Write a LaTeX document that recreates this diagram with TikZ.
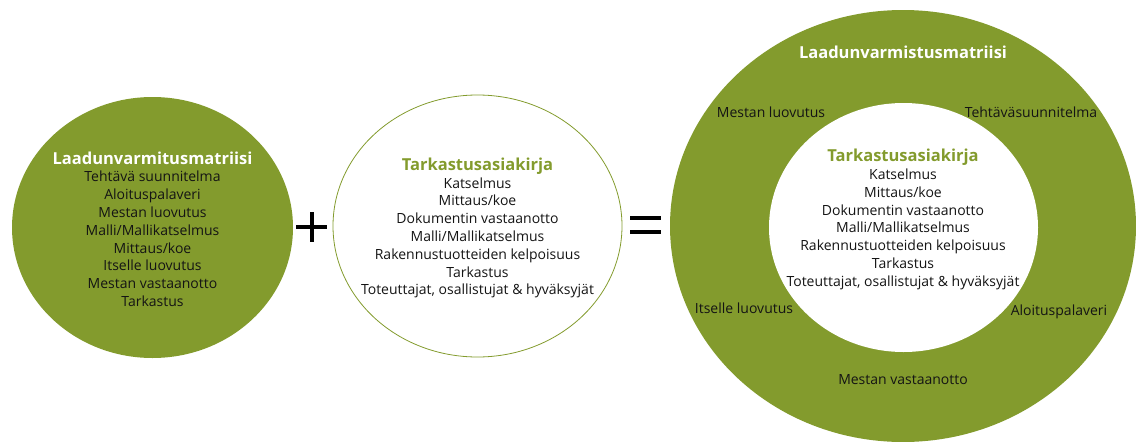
\documentclass[tikz,border=0pt]{standalone}
\usepackage{fontspec}
\setmainfont{Open Sans}
\usetikzlibrary{shapes.geometric}
\definecolor{olive}{RGB}{131,155,45}
\definecolor{txt}{RGB}{20,20,20}
\newcommand{\ttlfont}{\bfseries\fontsize{16.5}{19}\selectfont}
\tikzset{
  oval/.style={ellipse, inner sep=0pt, outer sep=0pt},
  body/.style={align=center, text=txt, font=\fontsize{14}{17.8}\selectfont, inner sep=0pt},
  lbl/.style={text=txt, font=\fontsize{14}{16}\selectfont, inner sep=0pt},
  bar/.style={line width=4pt, black}
}
\begin{document}
\begin{tikzpicture}[x=1pt,y=-1pt]
\useasboundingbox (0,0) rectangle (1136,442);
% left ellipse
\node[oval, fill=olive, minimum width=281pt, minimum height=261pt] (lc) at (152.5,227.5) {};
\node[body] (lt) at (152.5,229) {{\color{white}\ttlfont Laadunvarmitusmatriisi}\\
Tehtävä suunnitelma\\ Aloituspalaveri\\ Mestan luovutus\\ Malli/Mallikatselmus\\ Mittaus/koe\\ Itselle luovutus\\ Mestan vastaanotto\\ Tarkastus};
% plus
\coordinate (p1) at (296,227); \coordinate (p2) at (327,227);
\coordinate (p3) at (311.5,212); \coordinate (p4) at (311.5,242);
\draw[bar] (p1) -- (p2);
\draw[bar] (p3) -- (p4);
% middle ellipse
\node[oval, draw=olive, line width=0.8pt, minimum width=289pt, minimum height=262pt] (mc) at (477.5,226) {};
\node[body] (mt) at (477.5,228) {{\color{olive}\ttlfont Tarkastusasiakirja}\\
Katselmus\\ Mittaus/koe\\ Dokumentin vastaanotto\\ Malli/Mallikatselmus\\ Rakennustuotteiden kelpoisuus\\ Tarkastus\\ Toteuttajat, osallistujat \& hyväksyjät};
% equals
\coordinate (e1) at (630,218); \coordinate (e2) at (661,218);
\coordinate (e3) at (630,232); \coordinate (e4) at (661,232);
\draw[bar] (e1) -- (e2);
\draw[bar] (e3) -- (e4);
% right rings
\node[oval, fill=olive, minimum width=466pt, minimum height=432pt] (rc) at (903,226) {};
\node[oval, fill=white, minimum width=269pt, minimum height=249pt] (ri) at (903.5,227.5) {};
\node[text=white, font=\ttlfont, inner sep=0pt] (rtitle) at (903,52) {Laadunvarmistusmatriisi};
\node[body] (rt) at (903,219.5) {{\color{olive}\ttlfont Tarkastusasiakirja}\\
Katselmus\\ Mittaus/koe\\ Dokumentin vastaanotto\\ Malli/Mallikatselmus\\ Rakennustuotteiden kelpoisuus\\ Tarkastus\\ Toteuttajat, osallistujat \& hyväksyjät};
\node[lbl] (r1) at (771,112) {Mestan luovutus};
\node[lbl] (r2) at (1031,112) {Tehtäväsuunnitelma};
\node[lbl] (r3) at (744,308) {Itselle luovutus};
\node[lbl] (r4) at (1059,312) {Aloituspalaveri};
\node[lbl] (r5) at (903,380) {Mestan vastaanotto};
\end{tikzpicture}
\end{document}
